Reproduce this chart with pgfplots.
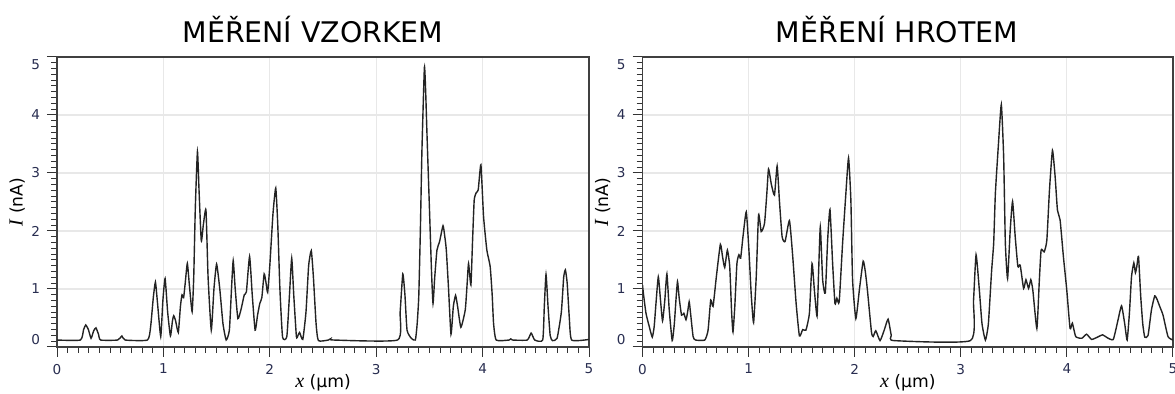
\documentclass[border=0pt]{standalone}
\usepackage{fontspec}
\setmainfont{DejaVu Sans}
\newfontfamily\lserif{Liberation Serif}
\usepackage{pgfplots}
\pgfplotsset{compat=1.18}
\definecolor{ticklab}{RGB}{40,45,80}
\definecolor{curve}{RGB}{35,35,35}
\pgfplotstableread{
x y
0 0.12
0.22 0.12
0.25 0.30
0.27 0.38
0.295 0.30
0.32 0.15
0.345 0.28
0.366 0.33
0.39 0.22
0.41 0.12
0.57 0.12
0.61 0.19
0.64 0.12
0.85 0.12
0.88 0.35
0.905 0.85
0.925 1.12
0.945 0.75
0.975 0.18
0.995 0.80
1.016 1.18
1.04 0.60
1.066 0.19
1.085 0.45
1.097 0.54
1.115 0.45
1.14 0.25
1.16 0.70
1.175 0.90
1.19 0.85
1.205 1.10
1.225 1.44
1.245 1.05
1.27 0.61
1.285 1.20
1.30 2.40
1.32 3.37
1.335 2.70
1.356 1.83
1.375 2.10
1.40 2.36
1.42 1.20
1.45 0.29
1.475 1.00
1.50 1.43
1.53 1.00
1.56 0.40
1.59 0.12
1.62 0.29
1.64 1.00
1.656 1.49
1.675 1.00
1.70 0.49
1.73 0.65
1.76 0.90
1.78 0.95
1.81 1.56
1.835 0.90
1.862 0.29
1.885 0.55
1.906 0.75
1.925 0.85
1.947 1.26
1.965 1.10
1.98 0.94
2.00 1.40
2.03 2.30
2.056 2.74
2.075 2.10
2.095 1.00
2.12 0.17
2.16 0.18
2.185 0.90
2.206 1.53
2.225 0.90
2.25 0.18
2.265 0.20
2.28 0.25
2.31 0.13
2.34 0.60
2.365 1.40
2.39 1.66
2.41 1.20
2.435 0.40
2.457 0.11
2.55 0.12
2.57 0.14
2.60 0.12
3.20 0.12
3.225 0.60
3.25 1.26
3.27 0.90
3.29 0.29
3.33 0.15
3.368 0.12
3.385 0.40
3.40 0.87
3.415 2.00
3.43 3.40
3.453 4.82
3.465 4.40
3.478 3.63
3.503 2.25
3.52 1.30
3.534 0.75
3.55 1.20
3.571 1.67
3.596 1.82
3.628 2.09
3.645 1.90
3.659 1.67
3.68 1.00
3.703 0.22
3.725 0.70
3.746 0.89
3.765 0.70
3.796 0.34
3.837 0.64
3.855 1.10
3.868 1.44
3.89 1.07
3.905 1.80
3.921 2.53
3.94 2.66
3.959 2.71
3.984 3.14
4.009 2.25
4.04 1.67
4.071 1.39
4.09 0.90
4.103 0.41
4.128 0.12
4.25 0.12
4.265 0.14
4.28 0.12
4.42 0.12
4.456 0.24
4.49 0.12
4.565 0.12
4.58 0.70
4.596 1.25
4.615 0.70
4.635 0.20
4.656 0.11
4.70 0.15
4.74 0.60
4.762 1.20
4.778 1.33
4.795 1.10
4.815 0.50
4.837 0.12
5.0 0.13
}\vzorkem
\pgfplotstableread{
x y
0 1.07
0.01 0.90
0.033 0.58
0.064 0.35
0.092 0.17
0.11 0.35
0.127 0.75
0.149 1.21
0.17 0.80
0.189 0.45
0.21 0.80
0.23 1.26
0.252 0.64
0.28 0.11
0.30 0.40
0.315 0.80
0.33 1.13
0.346 0.84
0.368 0.55
0.39 0.58
0.41 0.47
0.425 0.60
0.44 0.78
0.452 0.60
0.477 0.18
0.50 0.12
0.587 0.12
0.618 0.29
0.643 0.81
0.665 0.70
0.696 1.21
0.734 1.77
0.755 1.55
0.775 1.37
0.80 1.67
0.822 1.39
0.84 0.60
0.853 0.26
0.87 0.70
0.89 1.44
0.909 1.59
0.925 1.53
0.947 1.90
0.978 2.33
1.003 1.67
1.025 0.90
1.047 0.42
1.072 1.21
1.094 2.28
1.119 1.99
1.15 2.13
1.172 2.65
1.188 3.07
1.215 2.80
1.244 2.62
1.269 3.12
1.291 2.51
1.316 1.90
1.344 1.82
1.385 2.18
1.416 1.56
1.448 0.75
1.479 0.19
1.51 0.30
1.54 0.29
1.573 0.58
1.598 1.44
1.62 0.98
1.645 0.53
1.66 1.30
1.676 2.07
1.698 1.16
1.723 0.93
1.745 1.84
1.767 2.37
1.792 1.44
1.814 0.75
1.832 0.84
1.854 0.78
1.886 1.79
1.917 2.65
1.942 3.26
1.964 2.53
1.98 1.16
2.011 0.49
2.045 1.00
2.08 1.48
2.10 1.30
2.12 0.98
2.158 0.26
2.174 0.18
2.199 0.28
2.239 0.11
2.28 0.30
2.315 0.48
2.345 0.20
2.371 0.11
3.091 0.11
3.12 0.80
3.144 1.59
3.175 0.98
3.20 0.40
3.232 0.12
3.26 0.40
3.29 1.30
3.31 1.79
3.326 2.65
3.355 3.50
3.382 4.18
3.404 3.28
3.42 1.79
3.441 1.18
3.466 2.02
3.488 2.51
3.513 1.90
3.538 1.39
3.56 1.41
3.592 1.01
3.614 1.16
3.639 1.01
3.66 1.16
3.679 0.98
3.717 0.32
3.739 1.10
3.757 1.67
3.786 1.64
3.811 1.84
3.836 2.71
3.864 3.39
3.889 2.94
3.911 2.36
3.936 2.19
3.967 1.56
3.999 0.98
4.03 0.32
4.052 0.41
4.083 0.18
4.14 0.15
4.186 0.22
4.233 0.13
4.30 0.18
4.337 0.21
4.38 0.16
4.437 0.13
4.48 0.45
4.515 0.71
4.545 0.40
4.568 0.12
4.59 0.60
4.609 1.21
4.631 1.45
4.646 1.28
4.66 1.40
4.675 1.56
4.696 0.87
4.715 0.40
4.734 0.17
4.765 0.20
4.797 0.64
4.828 0.88
4.85 0.82
4.875 0.70
4.906 0.55
4.953 0.18
5.0 0.12
}\hrotem
\pgfplotsset{
  common/.style={
    scale only axis, height=145pt,
    anchor=south west,
    xmin=0, xmax=5, ymin=0, ymax=5,
    xtick={0,1,2,3,4,5},
    minor xtick={0,0.1,...,5},
    ytick={0,1,2,3,4,5},
    yticklabels={,1,2,3,4,},
    minor ytick={0,0.1,...,5},
    extra y ticks={0.13,4.87},
    extra y tick labels={0,5},
    extra y tick style={grid=none, tick style={draw=none}},
    xtick pos=bottom, ytick pos=left,
    tick align=outside,
    major tick length=5pt, minor tick length=3pt,
    tick style={black!80, line width=0.5pt},
    every tick label/.append style={font=\fontsize{6.8}{7}\selectfont, text=ticklab},
    /pgf/number format/assume math mode=true,
    grid=major,
    major grid style={gray!18, line width=0.6pt},
    axis line style={black!75, line width=0.6pt},
    xlabel={{\lserif\itshape\fontsize{10}{10}\selectfont x} (μm)},
    ylabel={{\lserif\itshape\fontsize{10}{10}\selectfont I} (nA)},
    label style={font=\fontsize{8.6}{9}\selectfont},
    xlabel style={at={(axis description cs:0.5,-0.124)}, anchor=center},
    ylabel style={at={(axis description cs:-0.075,0.5)}, anchor=center},
  }
}
\begin{document}
\begin{tikzpicture}
\useasboundingbox (0,0) rectangle (587.5pt,197pt);
\begin{axis}[common, at={(28.5pt,23.5pt)}, width=266pt]
\addplot[curve, line width=0.7pt, smooth, tension=0.3] table[x=x,y=y] {\vzorkem};
\end{axis}
\begin{axis}[common, at={(321.25pt,23.5pt)}, width=265.25pt]
\addplot[curve, line width=0.7pt, smooth, tension=0.3] table[x=x,y=y] {\hrotem};
\end{axis}
\node[anchor=base, font=\fontsize{14.2}{16}\selectfont] at (156.5pt,175.5pt) {MĚŘENÍ VZORKEM};
\node[anchor=base, font=\fontsize{14.2}{16}\selectfont] at (448.5pt,175.5pt) {MĚŘENÍ HROTEM};
\end{tikzpicture}
\end{document}
